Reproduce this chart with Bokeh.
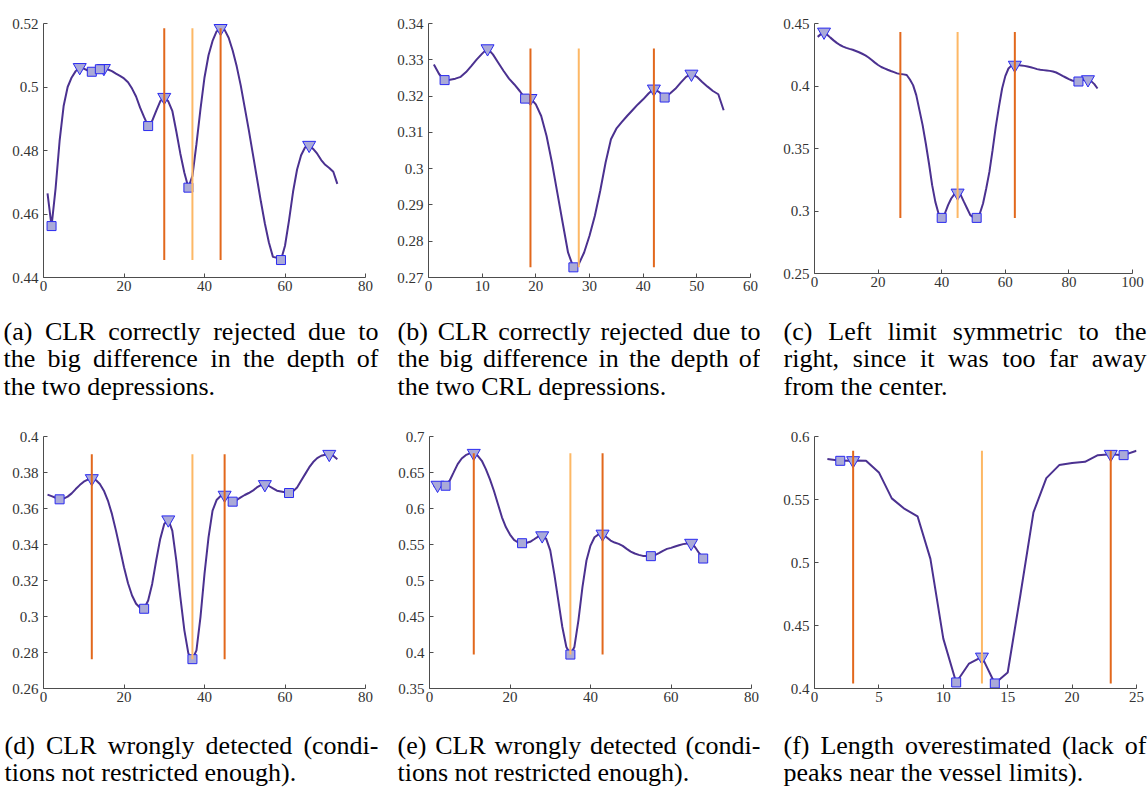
import numpy as np
from bokeh.plotting import figure
from bokeh.layouts import column, row
from bokeh.models import Range1d, FixedTicker, CustomJSTickFormatter
from bokeh.embed import file_html
from bokeh.resources import INLINE
from bokeh.core.properties import value

# ---------------------------------------------------------------------------
# Intensity profiles (sampled at x = 1, 2, ...), detected peaks / valleys,
# estimated vessel limits and centre for each of the six cases.
# ---------------------------------------------------------------------------
A_Y = [0.4665, 0.4562, 0.4680, 0.4830, 0.4940, 0.5000, 0.5030, 0.5050, 0.5062, 0.5058,
       0.5052, 0.5048, 0.5055, 0.5056, 0.5059, 0.5055, 0.5050, 0.5042, 0.5035, 0.5027,
       0.5015, 0.4995, 0.4970, 0.4935, 0.4905, 0.4877, 0.4893, 0.4925, 0.4955, 0.4968,
       0.4955, 0.4925, 0.4860, 0.4790, 0.4730, 0.4683, 0.4720, 0.4820, 0.4930, 0.5030,
       0.5100, 0.5145, 0.5175, 0.5185, 0.5180, 0.5155, 0.5115, 0.5065, 0.5005, 0.4935,
       0.4865, 0.4790, 0.4715, 0.4640, 0.4570, 0.4510, 0.4465, 0.4462, 0.4455, 0.4500,
       0.4580, 0.4670, 0.4740, 0.4785, 0.4810, 0.4817, 0.4805, 0.4790, 0.4770, 0.4755,
       0.4745, 0.4733, 0.4695]
A_PEAKS = [9, 15, 30, 44, 66]
A_VALLEYS = [2, 12, 14, 26, 36, 59]
A_LIMITS = [30, 44]
A_CENTER = [37]
A_XTICKS = [0, 20, 40, 60, 80]
A_YTICKS = [0.44, 0.46, 0.48, 0.5, 0.52]

B_Y = [0.3287, 0.3260, 0.3244, 0.3245, 0.3248, 0.3253, 0.3266, 0.3283, 0.3301, 0.3317,
       0.3331, 0.3315, 0.3292, 0.3269, 0.3248, 0.3232, 0.3214, 0.3193, 0.3194, 0.3177,
       0.3145, 0.3090, 0.3017, 0.2934, 0.2851, 0.2769, 0.2728, 0.2737, 0.2769, 0.2815,
       0.2870, 0.2939, 0.3017, 0.3081, 0.3110, 0.3128, 0.3145, 0.3161, 0.3177, 0.3191,
       0.3207, 0.3220, 0.3211, 0.3196, 0.3207, 0.3220, 0.3237, 0.3253, 0.3261, 0.3253,
       0.3239, 0.3226, 0.3214, 0.3205, 0.3161]
B_PEAKS = [11, 19, 42, 49]
B_VALLEYS = [3, 18, 27, 44]
B_LIMITS = [19, 42]
B_CENTER = [28]
B_XTICKS = [0, 10, 20, 30, 40, 50, 60]
B_YTICKS = [0.27, 0.28, 0.29, 0.3, 0.31, 0.32, 0.33, 0.34]

C_Y = [0.4393, 0.4415, 0.4433, 0.4410, 0.4387, 0.4365, 0.4345, 0.4328, 0.4315, 0.4305,
       0.4297, 0.4290, 0.4280, 0.4270, 0.4258, 0.4245, 0.4228, 0.4208, 0.4187, 0.4168,
       0.4152, 0.4141, 0.4130, 0.4120, 0.4111, 0.4101, 0.4096, 0.4093, 0.4088, 0.4052,
       0.4007, 0.3927, 0.3807, 0.3687, 0.3540, 0.3380, 0.3207, 0.3073, 0.2980, 0.2945,
       0.2980, 0.3047, 0.3100, 0.3135, 0.3145, 0.3127, 0.3073, 0.3020, 0.2967, 0.2948,
       0.2945, 0.2980, 0.3060, 0.3180, 0.3313, 0.3487, 0.3673, 0.3833, 0.3980, 0.4079,
       0.4140, 0.4165, 0.4168, 0.4167, 0.4164, 0.4161, 0.4156, 0.4150, 0.4143, 0.4135,
       0.4130, 0.4127, 0.4124, 0.4121, 0.4116, 0.4108, 0.4095, 0.4081, 0.4068, 0.4055,
       0.4044, 0.4038, 0.4036, 0.4045, 0.4050, 0.4052, 0.4039, 0.4015, 0.3980]
C_PEAKS = [3, 45, 63, 86]
C_VALLEYS = [40, 51, 83]
C_LIMITS = [27, 63]
C_CENTER = [45]
C_XTICKS = [0, 20, 40, 60, 80, 100]
C_YTICKS = [0.25, 0.3, 0.35, 0.4, 0.45]

D_Y = [0.3677, 0.3669, 0.3660, 0.3651, 0.3655, 0.3666, 0.3684, 0.3708, 0.3730, 0.3749,
       0.3760, 0.3767, 0.3758, 0.3736, 0.3699, 0.3644, 0.3570, 0.3477, 0.3376, 0.3274,
       0.3185, 0.3117, 0.3071, 0.3049, 0.3043, 0.3089, 0.3181, 0.3311, 0.3431, 0.3514,
       0.3538, 0.3477, 0.3311, 0.3108, 0.2923, 0.2794, 0.2763, 0.2812, 0.2997, 0.3237,
       0.3440, 0.3588, 0.3647, 0.3669, 0.3675, 0.3658, 0.3638, 0.3647, 0.3662, 0.3675,
       0.3686, 0.3699, 0.3717, 0.3730, 0.3734, 0.3725, 0.3712, 0.3699, 0.3695, 0.3690,
       0.3686, 0.3695, 0.3717, 0.3754, 0.3791, 0.3828, 0.3858, 0.3880, 0.3893, 0.3899,
       0.3902, 0.3893, 0.3874]
D_PEAKS = [12, 31, 45, 55, 71]
D_VALLEYS = [4, 25, 37, 47, 61]
D_LIMITS = [12, 45]
D_CENTER = [37]
D_XTICKS = [0, 20, 40, 60, 80]
D_YTICKS = [0.26, 0.28, 0.3, 0.32, 0.34, 0.36, 0.38, 0.4]

E_Y = [0.6310, 0.6326, 0.6320, 0.6316, 0.6386, 0.6501, 0.6617, 0.6695, 0.6741, 0.6765,
       0.6769, 0.6732, 0.6663, 0.6547, 0.6409, 0.6247, 0.6063, 0.5878, 0.5739, 0.5638,
       0.5564, 0.5528, 0.5518, 0.5521, 0.5537, 0.5573, 0.5610, 0.5624, 0.5578, 0.5418,
       0.5093, 0.4724, 0.4354, 0.4077, 0.3971, 0.4077, 0.4447, 0.4908, 0.5278, 0.5485,
       0.5601, 0.5640, 0.5647, 0.5601, 0.5555, 0.5527, 0.5509, 0.5481, 0.5439, 0.5402,
       0.5375, 0.5356, 0.5342, 0.5340, 0.5338, 0.5352, 0.5379, 0.5412, 0.5439, 0.5453,
       0.5472, 0.5490, 0.5505, 0.5515, 0.5520, 0.5462, 0.5379, 0.5305]
E_PEAKS = [2, 11, 28, 43, 65]
E_VALLEYS = [4, 23, 35, 55, 68]
E_LIMITS = [11, 43]
E_CENTER = [35]
E_XTICKS = [0, 20, 40, 60, 80]
E_YTICKS = [0.35, 0.4, 0.45, 0.5, 0.55, 0.6, 0.65, 0.7]

F_Y = [0.5821, 0.5807, 0.5810, 0.5807, 0.5715, 0.5509, 0.5425, 0.5367, 0.5029, 0.4396,
       0.4048, 0.4198, 0.4251, 0.4040, 0.4127, 0.4752, 0.5398, 0.5670, 0.5773, 0.5789,
       0.5799, 0.5852, 0.5860, 0.5852, 0.5887]
F_PEAKS = [3, 13, 23]
F_VALLEYS = [2, 11, 14, 24]
F_LIMITS = [3, 23]
F_CENTER = [13]
F_XTICKS = [0, 5, 10, 15, 20, 25]
F_YTICKS = [0.4, 0.45, 0.5, 0.55, 0.6]

CAPTIONS = {
    "a": ["(a) CLR correctly rejected due to", "the big difference in the depth of", "the two depressions."],
    "b": ["(b) CLR correctly rejected due to", "the big difference in the depth of", "the two CRL depressions."],
    "c": ["(c) Left limit symmetric to the", "right, since it was too far away", "from the center."],
    "d": ["(d) CLR wrongly detected (condi-", "tions not restricted enough)."],
    "e": ["(e) CLR wrongly detected (condi-", "tions not restricted enough)."],
    "f": ["(f) Length overestimated (lack of", "peaks near the vessel limits)."],
}

# ---------------------------------------------------------------------------
# Styling
# ---------------------------------------------------------------------------
CURVE = "#4b3190"
LIMIT = "#e2681c"
CENTRE = "#fdb865"
MARK_FILL = "#aaaad8"
MARK_EDGE = "#2a2af0"
AXIS = "#4d4d4d"
TICK_FONT = "Liberation Serif"
CAP_FONT = "Liberation Serif"
CAP_SIZE = 26

# Times/Liberation Serif advance widths (per 1000 em) used to justify captions
_W = {' ': 250, '(': 333, ')': 333, '.': 250, ',': 250, '-': 333,
      'a': 444, 'b': 500, 'c': 444, 'd': 500, 'e': 444, 'f': 333, 'g': 500, 'h': 500,
      'i': 278, 'j': 278, 'k': 500, 'l': 278, 'm': 778, 'n': 500, 'o': 500, 'p': 500,
      'q': 500, 'r': 333, 's': 389, 't': 278, 'u': 500, 'v': 500, 'w': 722, 'x': 500,
      'y': 500, 'z': 444, 'C': 667, 'L': 611, 'R': 667}


def text_width(s, size=CAP_SIZE):
    return sum(_W.get(ch, 500) for ch in s) * size / 1000.0


def make_panel(ys, peaks, valleys, limits, centre, xr, yr, xticks, yticks,
               left, frame_w, right, top, frame_h, bottom):
    p = figure(frame_width=frame_w, frame_height=frame_h,
               min_border_left=left, min_border_right=right,
               min_border_top=top, min_border_bottom=bottom,
               x_range=Range1d(*xr), y_range=Range1d(*yr),
               toolbar_location=None, output_backend="svg")
    p.outline_line_color = None
    p.grid.visible = False
    p.background_fill_color = "white"
    p.border_fill_color = "white"

    fmt = CustomJSTickFormatter(code="return String(parseFloat(tick.toFixed(4)));")
    for ax, ticks in ((p.xaxis[0], xticks), (p.yaxis[0], yticks)):
        ax.ticker = FixedTicker(ticks=ticks)
        ax.formatter = fmt
        ax.major_tick_in = 4
        ax.major_tick_out = 0
        ax.minor_tick_line_color = None
        ax.axis_line_color = AXIS
        ax.major_tick_line_color = AXIS
        ax.major_label_text_font = TICK_FONT
        ax.major_label_text_font_size = "15px"
        ax.major_label_text_color = "#333333"
    p.xaxis[0].major_label_standoff = 3
    p.yaxis[0].major_label_standoff = 5

    xs = np.arange(1, len(ys) + 1)
    yv = np.array(ys)
    p.line(xs, yv, line_color=CURVE, line_width=2)

    p.inverted_triangle([x for x in peaks], [ys[x - 1] for x in peaks], size=13,
                        fill_color=MARK_FILL, line_color=MARK_EDGE, line_width=1)
    p.square([x for x in valleys], [ys[x - 1] for x in valleys], size=9,
             fill_color=MARK_FILL, line_color=MARK_EDGE, line_width=1)

    lo, hi = float(yv.min()), float(yv.max())
    p.segment(x0=limits, y0=[lo] * len(limits), x1=limits, y1=[hi] * len(limits),
              line_color=LIMIT, line_width=2)
    p.segment(x0=centre, y0=[lo] * len(centre), x1=centre, y1=[hi] * len(centre),
              line_color=CENTRE, line_width=2)
    return p


def make_caption(lines, width, height, x0, x1, rows_y):
    c = figure(width=width, height=height, x_range=Range1d(0, width),
               y_range=Range1d(height, 0), min_border=0,
               x_axis_type=None, y_axis_type=None,
               toolbar_location=None, output_backend="svg")
    c.outline_line_color = None
    c.grid.visible = False
    c.border_fill_color = "white"
    wx, wy, wt = [], [], []
    for i, line in enumerate(lines):
        words = line.split(" ")
        widths = [text_width(w) for w in words]
        if i == len(lines) - 1 or len(words) < 2:
            gap = text_width(" ")
        else:
            gap = (x1 - x0 - sum(widths)) / (len(words) - 1)
        x = x0
        for w, wd in zip(words, widths):
            wx.append(x)
            wy.append(rows_y[i])
            wt.append(w)
            x += wd + gap
    c.text(x=wx, y=wy, text=wt, text_font=value(CAP_FONT),
           text_font_size="%dpx" % CAP_SIZE, text_baseline="middle",
           text_align="left", text_color="black")
    return c


pa = make_panel(A_Y, A_PEAKS, A_VALLEYS, A_LIMITS, A_CENTER, (0, 80), (0.44, 0.52),
                A_XTICKS, A_YTICKS, 43, 322, 15, 21, 254, 25)
pb = make_panel(B_Y, B_PEAKS, B_VALLEYS, B_LIMITS, B_CENTER, (0, 60), (0.27, 0.34),
                B_XTICKS, B_YTICKS, 48, 322, 10, 21, 254, 25)
pc = make_panel(C_Y, C_PEAKS, C_VALLEYS, C_LIMITS, C_CENTER, (0, 100), (0.25, 0.45),
                C_XTICKS, C_YTICKS, 54, 318, 15, 23, 250, 27)
pd = make_panel(D_Y, D_PEAKS, D_VALLEYS, D_LIMITS, D_CENTER, (0, 80), (0.26, 0.40),
                D_XTICKS, D_YTICKS, 43, 322, 15, 16, 252, 32)
pe = make_panel(E_Y, E_PEAKS, E_VALLEYS, E_LIMITS, E_CENTER, (0, 80), (0.35, 0.70),
                E_XTICKS, E_YTICKS, 49, 322, 9, 16, 252, 32)
pf = make_panel(F_Y, F_PEAKS, F_VALLEYS, F_LIMITS, F_CENTER, (0, 25), (0.40, 0.60),
                F_XTICKS, F_YTICKS, 54, 322, 11, 16, 252, 32)

ca = make_caption(CAPTIONS["a"], 380, 120, 3, 378, [31, 58, 86])
cb = make_caption(CAPTIONS["b"], 380, 120, 17, 380, [31, 58, 86])
cc = make_caption(CAPTIONS["c"], 387, 120, 23, 386, [31, 58, 86])
cd = make_caption(CAPTIONS["d"], 380, 67, 4, 378, [25, 52])
ce = make_caption(CAPTIONS["e"], 380, 67, 17, 380, [25, 52])
cf = make_caption(CAPTIONS["f"], 387, 67, 23, 386, [25, 52])

layout = column(row(pa, pb, pc), row(ca, cb, cc), row(pd, pe, pf), row(cd, ce, cf))

open("out.html", "w").write(file_html(layout, INLINE))
